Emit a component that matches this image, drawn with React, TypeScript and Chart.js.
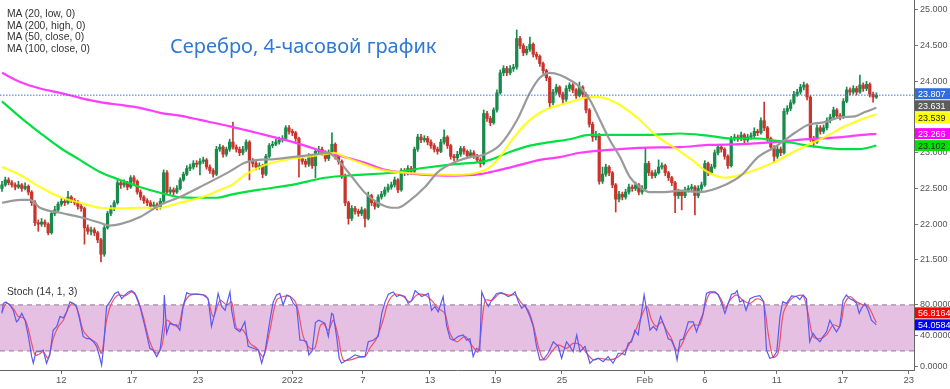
import React, { useEffect, useRef } from 'react';
import { Chart, registerables } from 'chart.js';
Chart.register(...registerables);

// ---------- DATA ----------
const firstOpen = 22.5;
const closes = [
  22.55, 22.62, 22.58, 22.55, 22.52, 22.55, 22.50, 22.53, 22.45, 22.30,
  22.02, 22.00, 22.03, 22.00, 21.88, 22.15, 22.20, 22.28, 22.32, 22.30,
  22.38, 22.33, 22.30, 22.25, 22.22, 21.95, 21.90, 21.92, 21.88, 21.78,
  21.58, 21.95, 22.15, 22.22, 22.30, 22.58, 22.55, 22.58, 22.52, 22.65,
  22.60, 22.45, 22.38, 22.33, 22.30, 22.25, 22.27, 22.24, 22.32, 22.72,
  22.45, 22.48, 22.45, 22.50, 22.62, 22.70, 22.78, 22.80, 22.85, 22.84,
  22.88, 22.90, 22.80, 22.75, 22.70, 23.05, 23.08, 22.98, 23.05, 23.15,
  23.08, 23.05, 23.00, 23.05, 23.15, 22.88, 22.85, 22.80, 22.82, 22.70,
  22.95, 23.10, 23.12, 23.15, 23.18, 23.20, 23.35, 23.30, 23.28, 23.20,
  22.92, 22.88, 22.84, 22.95, 22.82, 23.02, 23.05, 23.00, 22.92, 23.00,
  23.12, 22.95, 22.88, 22.68, 22.30, 22.08, 22.22, 22.18, 22.15, 22.20,
  22.08, 22.40, 22.30, 22.25, 22.38, 22.42, 22.48, 22.52, 22.55, 22.62,
  22.48, 22.75, 22.72, 22.78, 22.74, 23.05, 23.22, 23.18, 23.20, 23.15,
  23.10, 23.05, 23.02, 23.15, 23.22, 23.10, 22.95, 22.93, 22.98, 23.06,
  23.02, 22.96, 23.00, 22.96, 22.90, 22.85, 23.55, 23.48, 23.42, 23.60,
  23.84, 24.12, 24.18, 24.12, 24.18, 24.20, 24.60, 24.50, 24.40, 24.45,
  24.52, 24.38, 24.35, 24.25, 24.15, 24.05, 23.70, 23.85, 23.92, 23.82,
  23.75, 23.90, 23.95, 23.88, 23.80, 23.92, 23.82, 23.60, 23.40, 23.22,
  23.25, 22.60, 22.70, 22.80, 22.72, 22.55, 22.35, 22.42, 22.38, 22.45,
  22.52, 22.50, 22.55, 22.45, 22.50, 22.85, 22.72, 22.68, 22.72, 22.80,
  22.82, 22.72, 22.65, 22.58, 22.40, 22.45, 22.40, 22.48, 22.50, 22.52,
  22.40, 22.50, 22.55, 22.85, 22.72, 22.80, 23.00, 23.08, 23.05, 22.95,
  22.82, 23.20, 23.22, 23.20, 23.25, 23.18, 23.22, 23.24, 23.30, 23.28,
  23.45, 23.35, 23.20, 23.08, 22.95, 23.05, 23.00, 23.58, 23.62, 23.70,
  23.82, 23.85, 23.92, 23.95, 23.78, 23.20, 23.15, 23.35, 23.30, 23.35,
  23.45, 23.50, 23.60, 23.52, 23.50, 23.72, 23.88, 23.85, 23.90, 23.85,
  23.95, 23.90, 23.96, 23.82, 23.78, 23.807,
];
const highs = [
  22.60, 22.66, 22.65, 22.61, 22.58, 22.60, 22.57, 22.58, 22.55, 22.47,
  22.33, 22.06, 22.08, 22.06, 22.02, 22.18, 22.25, 22.31, 22.36, 22.35,
  22.46, 22.40, 22.36, 22.33, 22.28, 22.24, 21.99, 21.96, 21.95, 21.90,
  21.80, 21.98, 22.18, 22.26, 22.33, 22.62, 22.62, 22.62, 22.60, 22.68,
  22.68, 22.62, 22.48, 22.40, 22.36, 22.33, 22.31, 22.30, 22.36, 22.76,
  22.75, 22.52, 22.51, 22.54, 22.65, 22.73, 22.82, 22.84, 22.89, 22.89,
  22.92, 22.94, 22.92, 22.83, 22.78, 23.09, 23.12, 23.10, 23.08, 23.19,
  23.43, 23.11, 23.08, 23.09, 23.18, 23.17, 22.92, 22.88, 22.86, 22.84,
  22.98, 23.13, 23.16, 23.19, 23.22, 23.24, 23.38, 23.38, 23.33, 23.30,
  23.22, 22.96, 22.91, 22.99, 22.97, 23.06, 23.09, 23.08, 23.03, 23.04,
  23.28, 23.14, 22.98, 22.90, 22.70, 22.32, 22.26, 22.25, 22.21, 22.24,
  22.22, 22.45, 22.42, 22.33, 22.41, 22.46, 22.52, 22.56, 22.59, 22.66,
  22.64, 22.78, 22.78, 22.82, 22.81, 23.08, 23.26, 23.26, 23.24, 23.23,
  23.18, 23.13, 23.08, 23.19, 23.32, 23.24, 23.12, 22.98, 23.02, 23.09,
  23.09, 23.04, 23.04, 23.03, 22.98, 22.93, 23.60, 23.58, 23.51, 23.63,
  23.88, 24.16, 24.22, 24.21, 24.22, 24.24, 24.72, 24.63, 24.53, 24.49,
  24.62, 24.54, 24.41, 24.37, 24.27, 24.17, 24.07, 23.89, 23.96, 23.94,
  23.85, 23.94, 23.98, 23.97, 23.90, 23.99, 23.94, 23.84, 23.62, 23.43,
  23.30, 23.27, 22.80, 22.84, 22.82, 22.74, 22.57, 22.46, 22.45, 22.49,
  22.56, 22.55, 22.59, 22.57, 22.54, 23.07, 22.88, 22.75, 22.76, 22.90,
  22.86, 22.84, 22.74, 22.67, 22.60, 22.49, 22.47, 22.52, 22.54, 22.56,
  22.54, 22.54, 22.59, 22.89, 22.87, 22.84, 23.04, 23.12, 23.11, 23.07,
  22.97, 23.23, 23.26, 23.25, 23.29, 23.27, 23.26, 23.28, 23.35, 23.33,
  23.49, 23.71, 23.37, 23.22, 23.10, 23.09, 23.08, 23.62, 23.66, 23.74,
  23.86, 23.89, 23.96, 23.99, 23.97, 23.80, 23.23, 23.39, 23.38, 23.39,
  23.49, 23.54, 23.64, 23.62, 23.55, 23.76, 23.92, 23.91, 23.94, 23.93,
  24.09, 23.98, 24.00, 23.98, 23.85, 23.84,
];
const lows = [
  22.46, 22.53, 22.55, 22.52, 22.48, 22.50, 22.46, 22.48, 22.41, 22.26,
  21.98, 21.90, 21.97, 21.96, 21.85, 21.86, 22.12, 22.18, 22.25, 22.26,
  22.28, 22.30, 22.27, 22.21, 22.18, 21.72, 21.86, 21.85, 21.84, 21.74,
  21.47, 21.55, 21.93, 22.12, 22.19, 22.28, 22.50, 22.52, 22.48, 22.50,
  22.56, 22.42, 22.34, 22.29, 22.26, 22.22, 22.22, 22.20, 22.21, 22.30,
  22.42, 22.42, 22.41, 22.43, 22.48, 22.60, 22.68, 22.75, 22.77, 22.80,
  22.69, 22.85, 22.77, 22.71, 22.66, 22.68, 23.02, 22.94, 22.95, 23.02,
  23.05, 23.01, 22.96, 22.97, 23.02, 22.62, 22.80, 22.76, 22.77, 22.65,
  22.68, 22.93, 23.07, 23.10, 23.12, 23.15, 23.18, 23.26, 23.24, 23.16,
  22.66, 22.84, 22.80, 22.81, 22.78, 22.65, 22.99, 22.96, 22.88, 22.89,
  22.97, 22.91, 22.84, 22.64, 22.26, 22.00, 22.05, 22.14, 22.11, 22.12,
  21.96, 22.06, 22.26, 22.21, 22.23, 22.35, 22.39, 22.45, 22.49, 22.52,
  22.44, 22.46, 22.68, 22.69, 22.70, 22.72, 23.02, 23.14, 23.15, 23.11,
  23.06, 23.01, 22.98, 23.00, 23.12, 23.06, 22.91, 22.89, 22.90, 22.95,
  22.98, 22.92, 22.93, 22.92, 22.86, 22.80, 22.83, 23.44, 23.38, 23.40,
  23.57, 23.82, 24.08, 24.08, 24.09, 24.14, 24.17, 24.46, 24.36, 24.37,
  24.42, 24.34, 24.31, 24.21, 24.11, 24.01, 23.62, 23.67, 23.82, 23.78,
  23.68, 23.72, 23.86, 23.84, 23.76, 23.78, 23.78, 23.56, 23.36, 23.16,
  23.18, 22.56, 22.57, 22.67, 22.68, 22.51, 22.17, 22.31, 22.34, 22.35,
  22.42, 22.46, 22.47, 22.41, 22.42, 22.48, 22.68, 22.64, 22.65, 22.70,
  22.77, 22.68, 22.61, 22.54, 22.16, 22.36, 22.20, 22.37, 22.45, 22.47,
  22.13, 22.37, 22.47, 22.53, 22.68, 22.70, 22.78, 22.97, 23.01, 22.91,
  22.78, 22.80, 23.17, 23.16, 23.17, 23.14, 23.15, 23.19, 23.21, 23.24,
  23.26, 23.31, 23.16, 23.04, 22.86, 22.92, 22.96, 22.98, 23.54, 23.59,
  23.68, 23.79, 23.82, 23.88, 23.74, 23.16, 23.08, 23.13, 23.26, 23.27,
  23.32, 23.42, 23.47, 23.48, 23.46, 23.48, 23.70, 23.81, 23.82, 23.81,
  23.83, 23.86, 23.87, 23.78, 23.71, 23.76,
];

// Moving averages: [bar index, value]
const ma20Low = [
  [0, 22.30], [5.5, 22.34], [8.5, 22.34], [11.5, 22.23], [17.6, 22.16], [23.6, 22.10],
  [29.7, 22.02], [32.7, 21.98], [35.8, 22.0], [41.8, 22.10], [47.9, 22.27], [53.9, 22.38],
  [60, 22.52], [69.1, 22.74], [73.6, 22.86], [77.6, 22.90], [82.7, 22.91], [87.9, 22.94],
  [93.9, 22.97], [98.8, 23.0], [101.8, 22.90], [106.1, 22.66], [110, 22.44], [113.9, 22.30],
  [118.2, 22.23], [120, 22.23], [123, 22.31], [128.2, 22.52], [132.1, 22.73], [137.3, 22.87],
  [141.8, 22.94], [145.8, 22.97], [150.9, 23.11], [156.1, 23.46], [160, 23.84], [163, 24.05],
  [166.1, 24.12], [169.1, 24.09], [172.1, 24.02], [175.2, 23.92], [178.2, 23.74], [181.2, 23.46],
  [184.2, 23.18], [187.3, 22.94], [190.3, 22.66], [193.3, 22.52], [196.4, 22.45], [200.9, 22.45],
  [205.5, 22.47], [211.5, 22.45], [219.1, 22.55], [224.2, 22.69], [229.1, 22.94], [234.2, 23.08],
  [237.3, 23.18], [240.3, 23.28], [244.2, 23.39], [249.4, 23.43], [254.5, 23.50], [258.5, 23.51],
  [261.5, 23.57], [265, 23.631],
];
const ma50Close = [
  [0, 22.80], [5.5, 22.69], [11.5, 22.52], [17.6, 22.38], [23.6, 22.30], [29.7, 22.23],
  [35.8, 22.22], [41.8, 22.23], [47.9, 22.23], [53.9, 22.30], [60, 22.37], [66.1, 22.48],
  [69.7, 22.55], [73.6, 22.69], [79.7, 22.83], [85.8, 22.90], [91.8, 22.94], [97.9, 22.98],
  [100.9, 23.0], [103.9, 22.94], [107.9, 22.87], [112.1, 22.80], [116.1, 22.75], [122.1, 22.72],
  [128.2, 22.70], [137.3, 22.69], [144.8, 22.73], [147.9, 22.80], [150.9, 22.94], [153.9, 23.14],
  [157, 23.32], [160, 23.46], [163, 23.56], [166.1, 23.63], [169.1, 23.67], [172.1, 23.71],
  [175.2, 23.75], [178.2, 23.78], [181.2, 23.78], [184.2, 23.74], [187.3, 23.67], [190.3, 23.57],
  [193.3, 23.46], [196.4, 23.32], [199.4, 23.20], [202.4, 23.11], [205.5, 23.02], [209.1, 22.90],
  [213.9, 22.73], [219.1, 22.65], [223, 22.68], [228.2, 22.76], [234.2, 22.87], [239.4, 23.0],
  [244.2, 23.11], [249.4, 23.22], [254.5, 23.35], [258.5, 23.43], [262.4, 23.50], [265, 23.539],
];
const ma100Close = [
  [0, 23.72], [5.5, 23.50], [11.5, 23.28], [17.6, 23.07], [23.6, 22.90], [29.7, 22.73],
  [35.8, 22.62], [41.8, 22.52], [47.9, 22.44], [53.9, 22.38], [60, 22.37], [65.2, 22.37],
  [69.1, 22.41], [77.6, 22.48], [87.9, 22.55], [97.9, 22.65], [107.9, 22.69], [118.2, 22.72],
  [128.2, 22.79], [137.3, 22.84], [144.8, 22.87], [147.9, 22.90], [153.9, 23.01], [160, 23.10],
  [166.1, 23.15], [172.1, 23.19], [178.2, 23.25], [187.3, 23.25], [196.4, 23.25], [205.5, 23.27],
  [213.9, 23.24], [221.2, 23.20], [229.1, 23.20], [234.2, 23.17], [239.4, 23.14], [244.2, 23.10],
  [249.4, 23.07], [254.5, 23.05], [259.4, 23.05], [262.4, 23.07], [265, 23.102],
];
const ma200High = [
  [0, 24.12], [5.5, 23.99], [11.5, 23.90], [17.6, 23.84], [23.6, 23.77], [29.7, 23.71],
  [35.8, 23.67], [41.8, 23.63], [47.9, 23.56], [53.9, 23.52], [60, 23.46], [69.1, 23.37],
  [73.6, 23.32], [79.7, 23.25], [85.8, 23.18], [91.8, 23.10], [97.9, 23.01], [103.9, 22.94],
  [110, 22.86], [116.1, 22.76], [122.1, 22.72], [128.2, 22.69], [137.3, 22.68], [144.8, 22.70],
  [150.9, 22.76], [157, 22.83], [163, 22.90], [169.1, 22.94], [175.2, 23.0], [181.2, 23.03],
  [187.3, 23.05], [193.3, 23.07], [205.5, 23.08], [213.9, 23.11], [224.2, 23.12], [234.2, 23.15],
  [244.2, 23.19], [254.5, 23.22], [260.6, 23.25], [265, 23.266],
];

// Stochastic (14, 1, 3): [bar index, value]
const stochK = [
  [0, 69], [0.4, 82], [1.2, 84], [2.4, 80], [3.4, 73], [4.4, 58], [4.9, 60], [6, 69], [7, 60], [8, 39],
  [9, 12.6], [9.5, 4], [10.3, 19], [11.5, 19], [12.5, 21], [13.5, 4], [14.5, 15], [15.5, 47], [16.6, 52],
  [17.6, 65], [18.6, 63], [19.6, 71], [20.6, 84], [21.6, 82], [22.6, 78], [23.6, 60], [24.6, 39], [25.7, 36],
  [26.7, 36], [27.7, 32], [28.7, 26], [29.7, 10.5], [30.2, 1.7], [30.7, 21], [31.7, 78], [32.7, 84], [34.2, 95],
  [35.2, 97], [36.3, 88], [37.3, 93], [38.3, 97], [39.3, 98.6], [40.3, 95], [41.8, 78], [43.3, 52], [44.8, 23.5],
  [45.8, 21], [46.9, 12.6], [47.9, 21], [48.9, 56], [49.2, 93], [49.9, 43], [50.9, 56], [51.9, 54], [52.9, 54],
  [53.9, 47], [54.9, 78], [56, 96], [57, 94], [59, 94], [61, 93], [62.5, 88], [63.5, 52], [64.5, 69], [65.5, 95],
  [66.6, 78], [67.6, 73], [69.1, 97], [69.6, 73], [70.6, 49.6], [72.1, 45], [73.6, 58], [74.6, 26], [76.2, 23.5],
  [77.7, 21], [78.7, 4], [79.7, 19], [81.2, 60], [82.2, 84], [83.2, 93], [84.2, 95], [85.2, 80], [86.3, 93],
  [87.3, 91], [88.3, 82], [89.3, 78], [90.3, 34], [91.3, 34], [92.3, 32], [93, 15], [94, 20], [95, 57], [96, 60],
  [97, 58], [97.9, 56], [98.9, 39], [99.9, 69], [100.4, 67], [101.4, 39], [102.2, 10.5], [102.9, 4], [104.5, 8.3],
  [105.5, 10.5], [107, 15], [108.5, 12.6], [110, 12.6], [111, 32], [112.5, 34], [114, 39], [115.1, 69], [116.1, 84],
  [117.1, 94], [118.6, 97], [119.6, 91], [120.6, 93], [122.1, 91], [123.1, 82], [124.2, 86], [125.2, 98.7],
  [126.2, 95], [127.2, 91], [128.2, 93], [129.2, 95], [130.2, 73], [131.2, 78], [132.2, 71], [133.7, 91],
  [134.7, 54], [135.8, 36], [136.8, 34], [138.3, 39], [139.8, 41], [140.8, 34], [141.8, 36], [142.8, 12.6],
  [143.8, 23.5], [144.8, 21], [145.4, 97], [146.4, 86], [147.4, 78], [148.4, 86], [149.9, 95], [151.4, 96],
  [152.4, 94], [153.4, 91], [154.5, 93], [155.5, 97], [156.5, 84], [157.5, 75.6], [158.5, 80], [160, 65],
  [161, 52], [162, 26], [163, 8.3], [164, 8.3], [165.5, 17], [167.1, 32], [168.6, 26], [169.6, 10.5],
  [171.1, 32], [172.1, 26], [173.1, 19], [174.2, 41], [175.2, 19], [176.7, 26], [178.2, 4], [179.2, 8.3],
  [180.7, 10.5], [182.2, 6], [183.7, 12.6], [185.2, 4], [186.8, 17], [187.8, 17], [188.8, 15], [189.8, 30],
  [190.8, 32], [191.8, 47], [192.8, 41], [193.8, 69], [194.6, 93], [195.4, 73], [196.4, 47], [197.4, 52],
  [198.4, 47], [199.6, 65], [200.6, 54], [201.9, 36], [202.9, 34], [203.9, 23.5], [204.6, 8.3], [205.5, 34],
  [206.5, 36], [208, 58], [209.5, 58], [210.5, 45], [211.5, 58], [212.5, 69], [213.5, 95], [214.5, 97],
  [216.1, 97], [217.1, 93], [218.1, 82], [219.1, 69], [220.1, 82], [221.1, 94], [222.1, 95], [222.8, 98.7],
  [223.6, 84], [224.6, 86], [225.5, 73], [226.7, 88], [228.2, 91], [229.7, 92], [230.9, 84], [231.7, 21],
  [232.7, 10.5], [233.7, 11.7], [234.8, 19], [235.8, 65], [236.6, 84], [237.8, 82], [239.3, 91.7], [240.8, 91],
  [241.8, 87], [242.8, 93], [243.8, 88], [244.8, 32], [245.8, 43], [246.9, 36], [247.9, 32], [248.9, 39],
  [249.9, 45], [250.9, 60], [251.9, 52], [252.9, 45], [253.9, 52], [254.9, 86], [255.9, 93], [257, 88],
  [258, 86], [259, 82], [259.8, 69], [260.5, 75.6], [261.5, 82], [262.5, 73], [263.5, 60], [265, 54.0584],
];
const stochD = [
  [0, 71], [1.4, 82], [3.4, 75.6], [4.9, 65], [6.5, 63], [7.5, 56], [9, 30], [10, 15], [11, 15], [12.5, 19],
  [14, 10.5], [15.5, 36], [17.1, 52], [18.6, 60], [20.1, 75.6], [21.6, 82], [23.1, 71], [24.6, 47], [26.7, 36],
  [28.7, 30], [30.2, 17], [31.7, 60], [33.2, 82], [35.2, 93], [37.3, 91.7], [39.3, 97], [40.8, 91], [42.8, 65],
  [44.8, 32], [46.9, 17], [48.4, 26], [49.9, 60], [51.4, 56], [53.4, 52], [54.9, 78], [56.5, 91], [59, 94],
  [62, 91], [64, 65], [66.1, 86], [68.1, 80], [69.6, 84], [71.1, 49.6], [73.1, 47], [75.2, 30], [77.2, 23.5],
  [79.2, 12.6], [81.2, 47], [83.2, 86], [85.2, 91], [87.3, 91], [89.3, 80], [91.3, 39], [93.3, 23.5], [94.8, 23.5],
  [96.4, 52], [97.4, 56], [98.9, 47], [100.4, 60], [101.9, 39], [103.4, 8.3], [105.5, 8.3], [108, 11.7],
  [110, 12.6], [111.5, 23.5], [113.5, 36], [115.5, 60], [117.1, 84], [119.1, 94], [121.6, 91], [123.6, 84],
  [125.7, 93], [128.2, 93], [130.2, 86], [132.2, 75.6], [134.2, 69], [135.8, 43], [137.8, 32], [140.3, 39],
  [142.3, 28], [144.3, 19], [146.4, 86], [148.4, 86], [150.9, 95], [153.4, 93], [155.5, 93], [157.5, 82],
  [159.5, 73], [161, 54], [163, 19], [164.5, 8.3], [166.6, 19], [168.6, 28], [171.1, 23.5], [173.1, 30],
  [175.2, 28], [177.2, 17], [179.2, 8.3], [181.2, 10.5], [184.2, 8.3], [186.8, 12.6], [189.3, 23.5], [191.3, 39],
  [193.3, 60], [195.4, 78], [196.9, 60], [198.4, 52], [199.9, 58], [201.4, 47], [202.9, 36], [204.5, 21],
  [206, 28], [207.5, 43], [209.5, 54], [211.5, 54], [213, 78], [214.5, 95], [216.6, 95], [218.1, 86],
  [219.1, 75.6], [220.6, 86], [222.6, 93], [224.6, 86], [226.7, 82], [228.7, 88], [230.7, 84], [232.2, 43],
  [233.7, 11.7], [235.2, 17], [236.8, 69], [238.8, 86], [240.8, 91.7], [242.8, 91.7], [244.3, 69], [245.8, 39],
  [247.9, 36], [249.9, 41], [251.9, 54], [253.9, 52], [255.4, 82], [257, 91], [259, 84], [261, 80], [262.5, 78],
  [265, 56.8164],
];

const priceTicks = [21.5, 22, 22.5, 23, 23.5, 24, 24.5, 25];
const stochTicks = [0, 40, 80];
const xTickBars = [18, 39.4, 59.4, 88, 109.4, 129.7, 149.7, 169.7, 194.8, 213, 234.8, 254.8, 274.8];
const xTickLabels = ['12', '17', '23', '2022', '7', '13', '19', '25', 'Feb', '6', '11', '17', '23'];
const lastPrice = 23.807;
const stochBandUpper = 80;
const stochBandLower = 20;
const legendLines = ['MA (20, low, 0)', 'MA (200, high, 0)', 'MA (50, close, 0)', 'MA (100, close, 0)'];
const titleText = 'Серебро, 4-часовой график';
const stochTitle = 'Stoch (14, 1, 3)';

// ---------- STYLE ----------
const X_MIN = -0.6;
const X_MAX = 276.4;
const AXIS_W = 36;
const UP = '#1a8a4c';
const DOWN = '#c9342c';
const C_GRAY = '#9a9a9a';
const C_YELLOW = 'rgba(255,255,0,0.85)';
const C_GREEN = '#00e040';
const C_MAGENTA = '#ff3cff';
const FONT = '"Liberation Sans", Arial, sans-serif';

type Badge = { v: number; bg: string; fg: string; text: string };

function layoutCentered(ys: number[], h: number): number[] {
  let clusters = ys.map((y) => ({ items: [y], top: y - h / 2 }));
  let merged = true;
  while (merged) {
    merged = false;
    for (let i = 1; i < clusters.length; i++) {
      const a = clusters[i - 1];
      const b = clusters[i];
      if (a.top + a.items.length * h > b.top + 0.01) {
        const items = a.items.concat(b.items);
        const mean = items.reduce((s, v) => s + v, 0) / items.length;
        clusters.splice(i - 1, 2, { items, top: mean - (items.length * h) / 2 });
        merged = true;
        break;
      }
    }
  }
  const out: number[] = [];
  clusters.forEach((c) => c.items.forEach((_, k) => out.push(c.top + k * h + h / 2)));
  return out;
}

function layoutUp(ys: number[], h: number): number[] {
  const out = ys.slice();
  for (let k = out.length - 2; k >= 0; k--) out[k] = Math.min(out[k], out[k + 1] - h);
  return out;
}

function badgePlugin(badges: Badge[], mode: 'center' | 'up') {
  return {
    id: 'badges',
    afterDraw(chart: any) {
      const { ctx, chartArea, scales } = chart;
      const h = 12;
      const items = badges
        .map((b) => ({ ...b, y: scales.y.getPixelForValue(b.v) }))
        .sort((a, b) => a.y - b.y);
      const raw = items.map((i) => i.y);
      const ys = mode === 'center' ? layoutCentered(raw, h) : layoutUp(raw, h);
      ctx.save();
      items.forEach((it, k) => {
        const cy = ys[k];
        ctx.fillStyle = it.bg;
        ctx.fillRect(chartArea.right + 1, cy - h / 2 + 0.5, AXIS_W, h - 1);
        ctx.fillStyle = it.fg;
        ctx.font = `9px ${FONT}`;
        ctx.textBaseline = 'middle';
        ctx.textAlign = 'left';
        ctx.fillText(it.text, chartArea.right + 4, cy + 0.5);
      });
      ctx.restore();
    },
  };
}

const bandPlugin = {
  id: 'band',
  beforeDatasetsDraw(chart: any) {
    const { ctx, chartArea, scales } = chart;
    const yU = scales.y.getPixelForValue(stochBandUpper);
    const yL = scales.y.getPixelForValue(stochBandLower);
    ctx.save();
    ctx.fillStyle = '#e6c0e2';
    ctx.fillRect(chartArea.left, yU, chartArea.right - chartArea.left, yL - yU);
    ctx.strokeStyle = '#a48aa3';
    ctx.lineWidth = 1.2;
    ctx.setLineDash([5, 4]);
    [yU, yL].forEach((y) => {
      ctx.beginPath();
      ctx.moveTo(chartArea.left, y);
      ctx.lineTo(chartArea.right, y);
      ctx.stroke();
    });
    ctx.restore();
  },
};

const yAfterFit = (s: any) => {
  s.width = AXIS_W;
  s.paddingTop = 0;
  s.paddingBottom = 0;
};

export default function App() {
  const mainRef = useRef<HTMLCanvasElement>(null);
  const stochRef = useRef<HTMLCanvasElement>(null);

  useEffect(() => {
    const opens = closes.map((c, i) => (i === 0 ? firstOpen : closes[i - 1]));
    const colors = closes.map((c, i) => (c >= opens[i] ? UP : DOWN));
    const bodyData = closes.map((c, i) => ({ x: i, y: [opens[i], c] }));
    const wickData = closes.map((c, i) => ({ x: i, y: [lows[i], highs[i]] }));
    const toXY = (arr: number[][]) => arr.map(([x, y]) => ({ x, y }));
    const lineDs = (data: number[][], color: string, order: number) => ({
      type: 'line' as const,
      data: toXY(data),
      borderColor: color,
      borderWidth: 2.2,
      pointRadius: 0,
      tension: 0.4,
      cubicInterpolationMode: 'monotone' as const,
      order,
    });
    const last = (a: number[][]) => a[a.length - 1][1];

    const main = new Chart(mainRef.current!, {
      type: 'bar',
      data: {
        datasets: [
          {
            type: 'line',
            data: [{ x: X_MIN, y: lastPrice }, { x: X_MAX, y: lastPrice }],
            borderColor: '#3a6fe0',
            borderWidth: 1,
            borderDash: [1.5, 1.5],
            pointRadius: 0,
            order: 1,
          } as any,
          lineDs(ma20Low, C_GRAY, 2),
          lineDs(ma50Close, C_YELLOW, 3),
          lineDs(ma100Close, C_GREEN, 4),
          lineDs(ma200High, C_MAGENTA, 5),
          {
            type: 'bar',
            data: bodyData,
            backgroundColor: colors,
            borderWidth: 0,
            barThickness: 2.6,
            minBarLength: 1,
            grouped: false,
            order: 10,
          } as any,
          {
            type: 'bar',
            data: wickData,
            backgroundColor: colors,
            borderWidth: 0,
            barThickness: 1,
            grouped: false,
            order: 11,
          } as any,
        ],
      },
      options: {
        responsive: false,
        maintainAspectRatio: false,
        animation: false,
        layout: { padding: 0 },
        plugins: { legend: { display: false }, tooltip: { enabled: false } },
        scales: {
          x: { type: 'linear', min: X_MIN, max: X_MAX, display: false, offset: false } as any,
          y: {
            type: 'linear',
            position: 'right',
            min: 21.19,
            max: 25.14,
            afterBuildTicks: (s: any) => {
              s.ticks = priceTicks.map((v) => ({ value: v }));
            },
            afterFit: yAfterFit,
            ticks: {
              callback: (v: any) => Number(v).toFixed(3),
              font: { size: 9, family: FONT },
              color: '#555',
              padding: 2,
            },
            grid: { display: true, drawOnChartArea: false, drawTicks: true, tickLength: 4, color: '#777' },
            border: { display: true, color: '#666' },
          },
        },
      },
      plugins: [
        badgePlugin(
          [
            { v: lastPrice, bg: '#2f6ee0', fg: '#fff', text: lastPrice.toFixed(3) },
            { v: last(ma20Low), bg: '#5c5c5c', fg: '#fff', text: last(ma20Low).toFixed(3) },
            { v: last(ma50Close), bg: '#ffff00', fg: '#222', text: last(ma50Close).toFixed(3) },
            { v: last(ma200High), bg: '#ff00ff', fg: '#fff', text: last(ma200High).toFixed(3) },
            { v: last(ma100Close), bg: '#00e000', fg: '#222', text: last(ma100Close).toFixed(3) },
          ],
          'center'
        ),
      ],
    });

    const stoch = new Chart(stochRef.current!, {
      type: 'line',
      data: {
        datasets: [
          {
            data: toXY(stochK),
            borderColor: '#5a5af0',
            borderWidth: 1.2,
            pointRadius: 0,
            tension: 0,
          },
          {
            data: toXY(stochD),
            borderColor: '#f0506a',
            borderWidth: 1.2,
            pointRadius: 0,
            tension: 0.3,
          },
        ],
      },
      options: {
        responsive: false,
        maintainAspectRatio: false,
        animation: false,
        layout: { padding: 0 },
        plugins: { legend: { display: false }, tooltip: { enabled: false } },
        scales: {
          x: {
            type: 'linear',
            min: X_MIN,
            max: X_MAX,
            afterBuildTicks: (s: any) => {
              s.ticks = xTickBars.map((v) => ({ value: v }));
            },
            afterFit: (s: any) => {
              s.height = 19;
              s.paddingLeft = 0;
              s.paddingRight = 0;
            },
            ticks: {
              callback: (_v: any, i: number) => xTickLabels[i],
              font: { size: 9.5, family: FONT },
              color: '#555',
              padding: 1,
              maxRotation: 0,
              autoSkip: false,
            },
            grid: { display: true, drawOnChartArea: false, drawTicks: true, tickLength: 4, color: '#777' },
            border: { display: true, color: '#666' },
          },
          y: {
            type: 'linear',
            position: 'right',
            min: -4.8,
            max: 109.9,
            afterBuildTicks: (s: any) => {
              s.ticks = stochTicks.map((v) => ({ value: v }));
            },
            afterFit: yAfterFit,
            ticks: {
              callback: (v: any) => Number(v).toFixed(4),
              font: { size: 9, family: FONT },
              color: '#555',
              padding: 2,
            },
            grid: { display: true, drawOnChartArea: false, drawTicks: true, tickLength: 4, color: '#777' },
            border: { display: true, color: '#666' },
          },
        },
      },
      plugins: [
        bandPlugin,
        badgePlugin(
          [
            { v: last(stochD), bg: '#ff0000', fg: '#fff', text: last(stochD).toFixed(4) },
            { v: last(stochK), bg: '#0000ff', fg: '#fff', text: last(stochK).toFixed(4) },
          ],
          'up'
        ),
      ],
    });

    return () => {
      main.destroy();
      stoch.destroy();
    };
  }, []);

  return (
    <div style={{ position: 'absolute', left: 0, top: 0, width: 950, height: 389, background: '#fff', overflow: 'hidden' }}>
      <canvas ref={mainRef} width={950} height={282} style={{ position: 'absolute', left: 0, top: 0, width: 950, height: 282, display: 'block' }} />
      <canvas ref={stochRef} width={950} height={107} style={{ position: 'absolute', left: 0, top: 282, width: 950, height: 107, display: 'block' }} />
      <div style={{ position: 'absolute', left: 7, top: 8, font: `10.3px ${FONT}`, color: '#333', lineHeight: '11.7px' }}>
        {legendLines.map((t) => (
          <div key={t}>{t}</div>
        ))}
      </div>
      <div style={{ position: 'absolute', left: 170, top: 32, font: `20px "Noto Sans", sans-serif`, color: '#2f78d6', whiteSpace: 'nowrap' }}>
        {titleText}
      </div>
      <div style={{ position: 'absolute', left: 7, top: 286, font: `10.3px ${FONT}`, color: '#333', whiteSpace: 'nowrap' }}>
        {stochTitle}
      </div>
    </div>
  );
}
